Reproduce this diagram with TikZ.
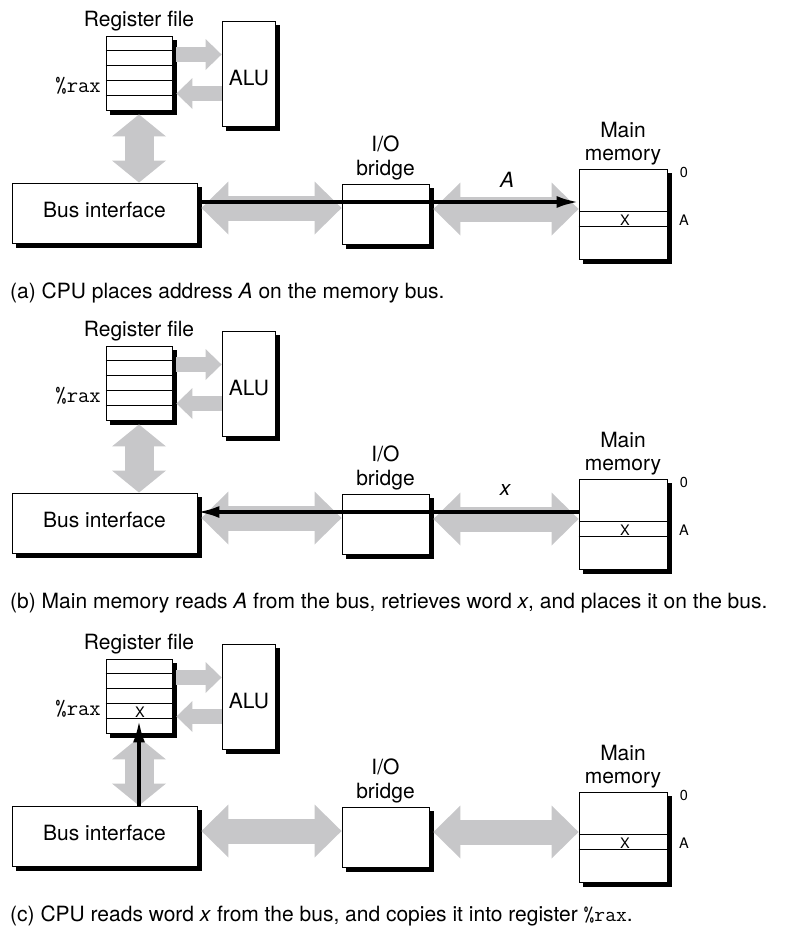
\documentclass[tikz,border=0pt]{standalone}
\usepackage{fontspec}
\setmainfont{TeX Gyre Heros}
\usetikzlibrary{arrows.meta,calc}
\definecolor{busgray}{RGB}{199,199,201}
\newcommand\drawpanel{%
  % boxes
  \node[box, minimum width=66pt, minimum height=74pt] (reg) at (139,73) {};
  \foreach \k in {1,...,4}
    \draw[thinline] ($(reg.north west)!\k/5!(reg.south west)$) -- ($(reg.north east)!\k/5!(reg.south east)$);
  \node[lbl, anchor=base] (regt) at (139,26) {Register file};
  \node[anchor=base east, inner sep=0pt, font=\ttfamily\fontsize{22}{24}\selectfont] (rax) at (101,92) {\%rax};
  \node[box, minimum width=53pt, minimum height=105pt] (alu) at (248.5,73.5) {};
  \node[lbl, anchor=base] (alut) at (249,85) {ALU};
  \node[box, minimum width=185pt, minimum height=60pt] (bus) at (104.5,213) {};
  \node[lbl, anchor=base] (bust) at (104.5,217.5) {Bus interface};
  \node[box, minimum width=87pt, minimum height=60pt] (io) at (385.5,214) {};
  \node[lbl, anchor=base] (iot1) at (385.5,151) {I/O};
  \node[lbl, anchor=base] (iot2) at (385.5,175) {bridge};
  \node[box, minimum width=88pt, minimum height=90pt] (mem) at (623,214) {};
  \node[lbl, anchor=base] (memt1) at (623,137) {Main};
  \node[lbl, anchor=base] (memt2) at (623,160) {memory};
  \draw[thinline] ($(mem.north west)+(0,43)$) -- ($(mem.north east)+(0,43)$);
  \draw[thinline] ($(mem.north west)+(0,58)$) -- ($(mem.north east)+(0,58)$);
  \node[smalltxt, anchor=base] (mx) at (625,225.5) {X};
  \node[smalltxt, anchor=base] (m0) at (684,177.5) {0};
  \node[smalltxt, anchor=base] (mA) at (684,225.5) {A};
  % gray arrows
  \coordinate (r1) at ($(reg.east)+(4,-18.5)$);
  \coordinate (r2) at ($(reg.east)+(4,20.5)$);
  \draw[fatA] (r1) -- (r1 -| alu.west);
  \draw[fatA] (r2 -| alu.west) -- (r2);
  \coordinate (v1) at ($(reg.south)+(0,4)$);
  \draw[fatV] (v1) -- (v1 |- bus.north);
  \coordinate (h1) at ($(bus.east)+(4,-5)$);
  \draw[fatH] (h1) -- (h1 -| io.west);
  \coordinate (h2) at ($(io.east)+(4,-5)$);
  \draw[fatH] (h2) -- (h2 -| mem.west);
  \coordinate (bl) at ($(bus.east)+(0,-11)$);
}
\begin{document}
\begin{tikzpicture}[x=1pt,y=-1pt,
  box/.style={draw=black, line width=0.9pt, fill=white, inner sep=0pt,
    preaction={fill=black, draw=black, transform canvas={shift={(4pt,-4pt)}}}},
  thinline/.style={draw=black, line width=0.9pt},
  lbl/.style={font=\fontsize{21}{25}\selectfont, inner sep=0pt},
  smalltxt/.style={font=\fontsize{14.5}{16}\selectfont, inner sep=0pt},
  captxt/.style={font=\fontsize{21}{24}\selectfont, anchor=base west, inner sep=0pt},
  fatA/.style={draw=busgray, line width=15pt, -{Triangle[width=31pt,length=16pt,line width=0pt]}},
  fatV/.style={draw=busgray, line width=29pt, {Triangle[width=54pt,length=22pt,line width=0pt]}-{Triangle[width=54pt,length=22pt,line width=0pt]}},
  fatH/.style={draw=busgray, line width=25pt, {Triangle[width=53pt,length=27pt,line width=0pt]}-{Triangle[width=53pt,length=27pt,line width=0pt]}},
  busline/.style={draw=black, line width=3.5pt, -{Latex[length=22pt,width=12pt]}},
]
\useasboundingbox[fill=white] (0,0) rectangle (786,927);
% panel (a)
\begin{scope}[name prefix=a-]
  \drawpanel
  \draw[busline] (bl) -- (bl -| mem.west);
  \node[lbl, anchor=base, font=\itshape\fontsize{21}{25}\selectfont] (lab) at (507,187) {A};
  \node[captxt] (capt) at (10,298) {(a) CPU places address \textit{A} on the memory bus.};
\end{scope}
% panel (b)
\begin{scope}[shift={(0,310)}, name prefix=b-]
  \drawpanel
  \draw[busline] (bl -| mem.west) -- (bl);
  \node[lbl, anchor=base, font=\itshape\fontsize{21}{25}\selectfont] (lab) at (505,185) {x};
  \node[captxt] (capt) at (10,298) {(b) Main memory reads \textit{A} from the bus, retrieves word \textit{x}, and places it on the bus.};
\end{scope}
% panel (c)
\begin{scope}[shift={(0,623)}, name prefix=c-]
  \drawpanel
  \node[smalltxt, anchor=base] (rx) at (140,94.5) {X};
  \coordinate (vt) at ($(reg.south)+(0,-13)$);
  \draw[busline] (vt |- bus.north) -- (vt);
  \node[captxt] (capt) at (10,298) {(c) CPU reads word \textit{x} from the bus, and copies it into register {\ttfamily\%rax}.};
\end{scope}
\end{tikzpicture}
\end{document}
